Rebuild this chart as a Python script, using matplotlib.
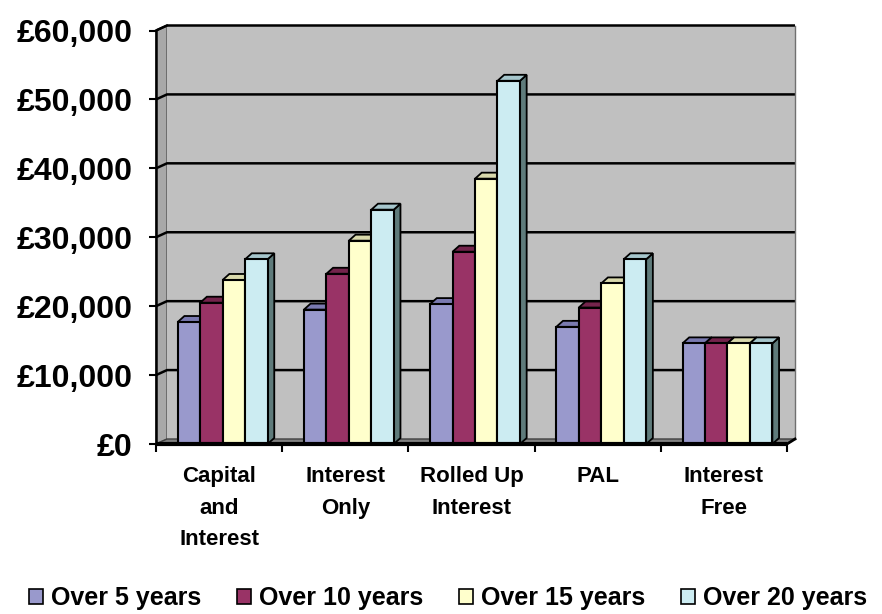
import matplotlib
matplotlib.use("Agg")
import matplotlib.pyplot as plt
from matplotlib.patches import Polygon, Rectangle, Patch

# ---------------- data ----------------
categories = ["Capital\nand\nInterest", "Interest\nOnly", "Rolled Up\nInterest", "PAL", "Interest\nFree"]
series_names = ["Over 5 years", "Over 10 years", "Over 15 years", "Over 20 years"]
over_5_years = [17700, 19500, 20300, 17000, 14600]
over_10_years = [20500, 24700, 27900, 19800, 14600]
over_15_years = [23800, 29500, 38500, 23300, 14600]
over_20_years = [26800, 34000, 52700, 26800, 14600]
y_ticks = [0, 10000, 20000, 30000, 40000, 50000, 60000]
y_tick_labels = ["£0", "£10,000", "£20,000", "£30,000", "£40,000", "£50,000", "£60,000"]

series_values = [over_5_years, over_10_years, over_15_years, over_20_years]
front_colors = ["#9999CC", "#993366", "#FFFFCC", "#CCECF2"]
top_colors = ["#7A7AB0", "#74244C", "#D9D9AC", "#A6C6CC"]
side_color = "#5F7B7B"

FONT = "Liberation Sans"

W, H = 882, 614
fig = plt.figure(figsize=(W / 100, H / 100), dpi=100)
fig.patch.set_facecolor("white")

# front plane of the 3-D box: x 156..787 px, y 444 (0) .. 30.5 (60k) px
ax = fig.add_axes([156 / W, (H - 444) / H, 631 / W, 413.5 / H])
n = len(categories)
ymax = y_ticks[-1]
ax.set_xlim(0, n)
ax.set_ylim(0, ymax)
ax.patch.set_visible(False)
for s in ax.spines.values():
    s.set_visible(False)

sx = n / 631.0        # data units per pixel (x)
sy = ymax / 413.5     # data units per pixel (y)

wdx_l, wdx_r, wdy = 11 * sx, 8 * sx, 5 * sy

# walls and floor
side_wall = Polygon([(0, 0), (wdx_l, wdy), (wdx_l, ymax + wdy), (0, ymax)], closed=True,
                    fc="#A8A8A8", ec="#555555", lw=1.0, clip_on=False, zorder=1)
ax.add_patch(side_wall)
back_wall = Rectangle((wdx_l, wdy), n + wdx_r - wdx_l, ymax, fc="#C0C0C0", ec="none",
                      clip_on=False, zorder=1)
ax.add_patch(back_wall)
floor = Polygon([(0, 0), (n, 0), (n + wdx_r, wdy), (wdx_l, wdy)], closed=True,
                fc="#808080", ec="#404040", lw=1.0, clip_on=False, zorder=2)
ax.add_patch(floor)

# gridlines (back wall + diagonal across the side wall)
for v in y_ticks[1:]:
    ax.plot([0, wdx_l, n + wdx_r], [v, v + wdy, v + wdy], color="black", lw=1.8,
            clip_on=False, zorder=2, solid_capstyle="butt")
# back wall right edge
ax.plot([n + wdx_r, n + wdx_r], [wdy, ymax + wdy], color="#707070", lw=1.0, clip_on=False, zorder=2)
# top edge of side wall
ax.plot([0, wdx_l], [ymax, ymax + wdy], color="black", lw=1.5, clip_on=False, zorder=2)

# bars
bar_off, bar_w = 0.172, 0.178
bdx, bdy = 6.7 * sx, 6.0 * sy
for i in range(n):
    for k, vals in enumerate(series_values):
        v = vals[i]
        x0 = i + bar_off + k * bar_w
        z = 3 + i * 0.1 + k * 0.02
        side = Polygon([(x0 + bar_w, 0), (x0 + bar_w + bdx, bdy), (x0 + bar_w + bdx, v + bdy),
                        (x0 + bar_w, v)], closed=True, fc=side_color, ec="black", lw=1.3,
                       clip_on=False, zorder=z)
        top = Polygon([(x0, v), (x0 + bdx, v + bdy), (x0 + bar_w + bdx, v + bdy), (x0 + bar_w, v)],
                      closed=True, fc=top_colors[k], ec="black", lw=1.3, clip_on=False, zorder=z)
        front = Rectangle((x0, 0), bar_w, v, fc=front_colors[k], ec="black", lw=1.5,
                          clip_on=False, zorder=z + 0.01)
        ax.add_patch(side)
        ax.add_patch(top)
        ax.add_patch(front)

# front axis lines
ax.plot([0, 0], [0, ymax], color="black", lw=1.8, clip_on=False, zorder=10)
ax.plot([0, n], [0, 0], color="black", lw=3.0, clip_on=False, zorder=10, solid_capstyle="butt")
ax.plot([n, n + wdx_r], [0, wdy], color="black", lw=2.0, clip_on=False, zorder=10)

# y ticks
ax.set_yticks(y_ticks)
ax.set_yticklabels(y_tick_labels, fontfamily=FONT, fontweight="bold", fontsize=23)
ax.tick_params(axis="y", which="major", direction="out", length=5, width=1.5, pad=12, color="black")

# x ticks: boundaries (major, no labels), labels at centres (minor)
ax.set_xticks(list(range(n + 1)))
ax.set_xticklabels([""] * (n + 1))
ax.set_xticks([i + 0.5 for i in range(n)], minor=True)
ax.set_xticklabels(categories, minor=True, fontfamily=FONT, fontweight="bold", fontsize=16,
                   linespacing=1.65)
ax.tick_params(axis="x", which="major", direction="out", length=6, width=1.5, color="black")
ax.tick_params(axis="x", which="minor", length=0, pad=16)

# legend
handles = [Patch(fc=c, ec="black", lw=1.2) for c in front_colors]
fig.legend(handles, series_names, loc="center", bbox_to_anchor=(448 / W, (H - 598.5) / H),
           ncol=4, frameon=False, prop={"family": FONT, "weight": "bold", "size": 18},
           handlelength=0.56, handleheight=0.56, handletextpad=0.32, columnspacing=1.44,
           borderpad=0, borderaxespad=0)

fig.savefig("out.png", dpi=100, facecolor="white")
